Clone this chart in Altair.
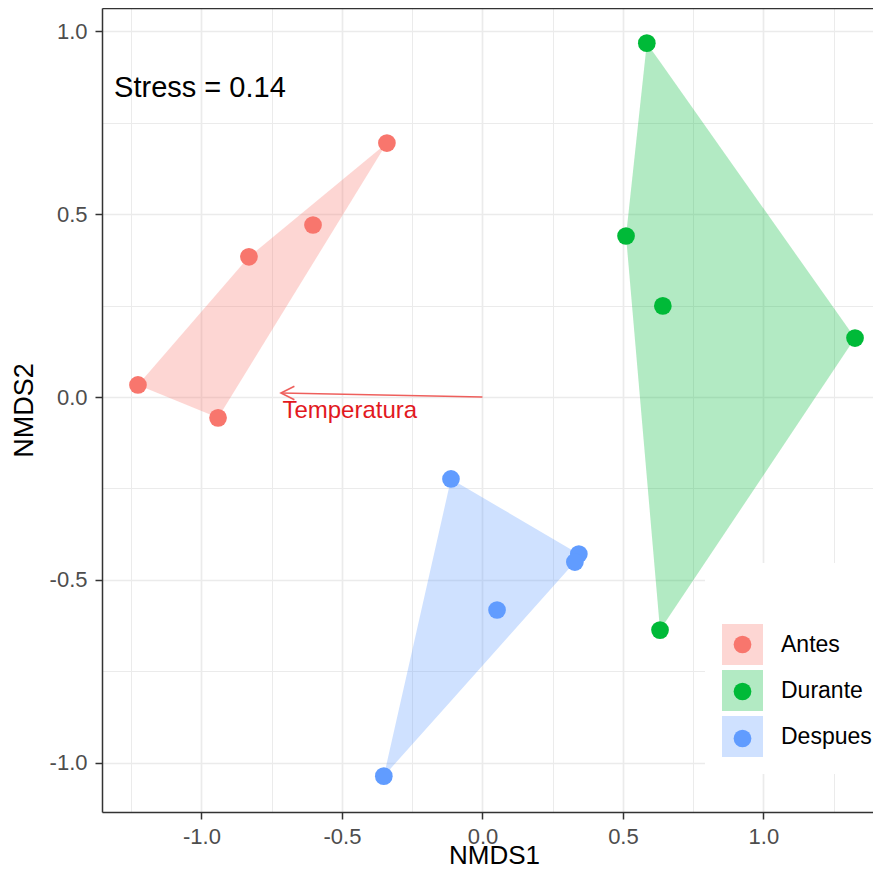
import altair as alt
import pandas as pd

# ---------------- data ----------------
groups = ["Antes", "Durante", "Despues"]
colors = ["#F8766D", "#00BA38", "#619CFF"]

nmds1_antes = [-0.340, -0.603, -0.831, -1.226, -0.941]
nmds2_antes = [0.694, 0.470, 0.383, 0.033, -0.057]
nmds1_durante = [0.585, 0.511, 0.642, 1.326, 0.632]
nmds2_durante = [0.967, 0.440, 0.249, 0.161, -0.637]
nmds1_despues = [-0.112, 0.343, 0.329, 0.052, -0.351]
nmds2_despues = [-0.224, -0.429, -0.451, -0.582, -1.036]

vector_label = ["Temperatura"]
vector_x = [-0.717]
vector_y = [0.011]
vector_label_x = [-0.712]
vector_label_y = [-0.057]

stress_label = ["Stress = 0.14"]
stress_x = [-1.311]
stress_y = [0.819]

x_ticks = [-1.0, -0.5, 0.0, 0.5, 1.0]
x_minor = [-1.25, -0.75, -0.25, 0.25, 0.75, 1.25]
y_ticks = [-1.0, -0.5, 0.0, 0.5, 1.0]
y_minor = [-0.75, -0.25, 0.25, 0.75]

x_domain = [-1.354, 1.390]
y_domain = [-1.134, 1.063]

FONT = "Liberation Sans"

# ---------------- helpers ----------------
def convex_hull(points):
    pts = sorted(set(points))
    if len(pts) <= 2:
        return pts

    def cross(o, a, b):
        return (a[0] - o[0]) * (b[1] - o[1]) - (a[1] - o[1]) * (b[0] - o[0])

    lower, upper = [], []
    for p in pts:
        while len(lower) >= 2 and cross(lower[-2], lower[-1], p) <= 0:
            lower.pop()
        lower.append(p)
    for p in reversed(pts):
        while len(upper) >= 2 and cross(upper[-2], upper[-1], p) <= 0:
            upper.pop()
        upper.append(p)
    return lower[:-1] + upper[:-1]


def hull_band(xs, ys, name):
    hull = convex_hull(list(zip(xs, ys)))
    rows = []
    for xv in sorted(set(p[0] for p in hull)):
        vals = []
        n = len(hull)
        for i in range(n):
            (x1, y1), (x2, y2) = hull[i], hull[(i + 1) % n]
            if min(x1, x2) - 1e-12 <= xv <= max(x1, x2) + 1e-12:
                if x1 == x2:
                    vals += [y1, y2]
                else:
                    vals.append(y1 + (y2 - y1) * (xv - x1) / (x2 - x1))
        rows.append({"group": name, "x": xv, "ytop": max(vals), "ybot": min(vals)})
    return rows


series = [
    ("Antes", nmds1_antes, nmds2_antes),
    ("Durante", nmds1_durante, nmds2_durante),
    ("Despues", nmds1_despues, nmds2_despues),
]

pts_rows, band_rows = [], []
for name, xs, ys in series:
    for a, b in zip(xs, ys):
        pts_rows.append({"group": name, "x": a, "y": b})
    band_rows += hull_band(xs, ys, name)

points_df = pd.DataFrame(pts_rows)
band_df = pd.DataFrame(band_rows)
arrow_df = pd.DataFrame({"x0": [0.0] * len(vector_x), "y0": [0.0] * len(vector_y),
                         "x": vector_x, "y": vector_y})
vlabel_df = pd.DataFrame({"label": vector_label, "x": vector_label_x, "y": vector_label_y})
stress_df = pd.DataFrame({"label": stress_label, "x": stress_x, "y": stress_y})

W, H = 771, 804

xs_scale = alt.Scale(domain=x_domain, nice=False, zero=False)
ys_scale = alt.Scale(domain=y_domain, nice=False, zero=False)
no_axis = None
hyphen_labels = "replace(format(datum.value, '.1f'), '\u2212', '-')"

# ---------------- layers ----------------
minor_x_axis = alt.Axis(orient="bottom", values=x_minor, grid=True, gridColor="#EBEBEB", gridWidth=1.0,
                        labels=False, ticks=False, domain=False, title=None, zindex=0)
minor_y_axis = alt.Axis(orient="left", values=y_minor, grid=True, gridColor="#EBEBEB", gridWidth=1.0,
                        labels=False, ticks=False, domain=False, title=None, zindex=0)

areas = alt.Chart(band_df).mark_area(orient="vertical", fillOpacity=0.3).encode(
    x=alt.X("x:Q", scale=xs_scale, axis=minor_x_axis),
    y=alt.Y("ytop:Q", scale=ys_scale, axis=minor_y_axis),
    y2="ybot:Q",
    color=alt.Color(
        "group:N",
        scale=alt.Scale(domain=groups, range=colors),
        legend=alt.Legend(
            orient="none", legendX=603, legendY=555,
            title=" ", titleFontSize=23, titlePadding=21,
            symbolType="square", symbolSize=1681, symbolOpacity=0.3,
            symbolStrokeWidth=0,
            labelFont=FONT, labelFontSize=23, labelColor="black", labelOffset=18,
            rowPadding=5, padding=17, fillColor="white",
        ),
    ),
    detail="group:N",
)

arrow_line = alt.Chart(arrow_df).mark_rule(color="#EE5F5C", strokeWidth=1.6).encode(
    x=alt.X("x0:Q", scale=xs_scale, axis=no_axis),
    y=alt.Y("y0:Q", scale=ys_scale, axis=no_axis),
    x2="x:Q",
    y2="y:Q",
)

arrow_head = alt.Chart(arrow_df).mark_point(
    shape="M2,-1L0,0L2,1", size=180, filled=False, color="#EE5F5C", strokeWidth=1.6, opacity=1
).encode(
    x=alt.X("x:Q", scale=xs_scale, axis=no_axis),
    y=alt.Y("y:Q", scale=ys_scale, axis=no_axis),
)

vlabel = alt.Chart(vlabel_df).mark_text(
    align="left", baseline="alphabetic", font=FONT, fontSize=24, color="#E2191E"
).encode(
    x=alt.X("x:Q", scale=xs_scale, axis=no_axis),
    y=alt.Y("y:Q", scale=ys_scale, axis=no_axis),
    text="label:N",
)

major_x_axis = alt.Axis(orient="bottom", values=x_ticks, labelExpr=hyphen_labels, grid=True,
                        gridColor="#EBEBEB", gridWidth=1.7, domain=True, domainColor="#333333",
                        domainWidth=1.5, ticks=True, tickColor="#333333", tickWidth=1.5, tickSize=7,
                        labelFont=FONT, labelFontSize=22, labelColor="#4D4D4D", labelPadding=7,
                        title="NMDS1", titleFont=FONT, titleFontSize=26, titleColor="black",
                        titleFontWeight="normal", titleBaseline="alphabetic", titleAlign="center",
                        titleX=392, titleY=51, zindex=0)
major_y_axis = alt.Axis(orient="left", values=y_ticks, labelExpr=hyphen_labels, grid=True,
                        gridColor="#EBEBEB", gridWidth=1.7, domain=True, domainColor="#333333",
                        domainWidth=1.5, ticks=True, tickColor="#333333", tickWidth=1.5, tickSize=7,
                        labelFont=FONT, labelFontSize=22, labelColor="#4D4D4D", labelPadding=8,
                        title="NMDS2", titleFont=FONT, titleFontSize=27, titleColor="black",
                        titleFontWeight="normal", titleBaseline="middle", titleAlign="center",
                        titleAngle=270, titleX=-78, titleY=402, zindex=0)

points = alt.Chart(points_df).mark_circle(size=314, opacity=1).encode(
    x=alt.X("x:Q", scale=xs_scale, axis=major_x_axis),
    y=alt.Y("y:Q", scale=ys_scale, axis=major_y_axis),
    fill=alt.Fill(
        "group:N",
        sort=groups,
        scale=alt.Scale(range=colors),
        legend=alt.Legend(
            orient="none", legendX=612, legendY=564,
            title=" ", titleFontSize=23, titlePadding=21,
            symbolType="circle", symbolSize=314, symbolOpacity=1,
            symbolStrokeWidth=0,
            labelFont=FONT, labelFontSize=23, labelExpr="''", labelOffset=18,
            rowPadding=23, padding=17,
        ),
    ),
)

top_axis = alt.Axis(orient="top", domain=True, domainColor="#333333", domainWidth=1.5,
                    labels=False, ticks=False, grid=False, title=None)

stress = alt.Chart(stress_df).mark_text(
    align="left", baseline="alphabetic", font=FONT, fontSize=29, color="black"
).encode(
    x=alt.X("x:Q", scale=xs_scale, axis=top_axis),
    y=alt.Y("y:Q", scale=ys_scale, axis=no_axis),
    text="label:N",
)

chart = alt.layer(areas, arrow_line, arrow_head, vlabel, points, stress).resolve_axis(
    x="independent", y="independent"
).properties(
    width=W,
    height=H,
    autosize=alt.AutoSizeParams(type="none"),
    padding={"left": 94, "top": 0, "right": 0, "bottom": 56},
    background="white",
).configure_view(stroke=None)

chart.save("out.html", embed_options={"renderer": "svg", "actions": False})
